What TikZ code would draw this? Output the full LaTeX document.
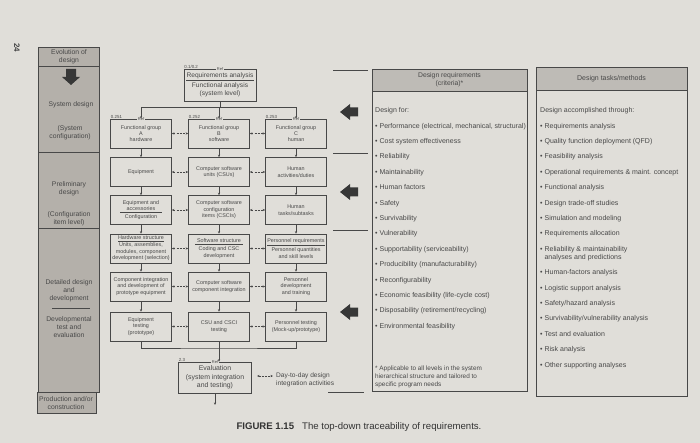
\documentclass[tikz,border=0pt]{standalone}
\usepackage{fontspec}
\setmainfont{Liberation Sans}
\usetikzlibrary{arrows.meta,positioning}

\definecolor{paper}{RGB}{224,222,217}
\definecolor{panel}{RGB}{180,176,170}
\definecolor{headgray}{RGB}{190,187,182}
\definecolor{ink}{RGB}{72,72,72}
\definecolor{bigdark}{RGB}{55,55,55}

\begin{document}
\begin{tikzpicture}[
    x=1pt, y=-1pt,
    every node/.style={text=ink},
    fbox/.style={draw=ink, fill=paper, line width=0.5pt, align=center, inner sep=0.5pt, minimum width=61pt, minimum height=29pt, font=\fontsize{5.4}{6.4}\selectfont},
    ref/.style={fill=paper, inner sep=0.4pt, font=\fontsize{4}{4}\selectfont},
    tag/.style={anchor=south west, inner sep=0.5pt, font=\fontsize{4.4}{5}\selectfont},
    flow/.style={-{Stealth[length=2.6pt,width=2.2pt]}, draw=ink, line width=0.5pt},
    daily/.style={{Stealth[length=2.6pt,width=2.2pt]}-{Stealth[length=2.6pt,width=2.2pt]}, draw=ink, line width=0.5pt, dash pattern=on 2pt off 1.2pt},
    phase/.style={align=center, font=\fontsize{6.8}{8}\selectfont},
    listing/.style={anchor=north west, align=left, inner sep=0pt, font=\fontsize{7}{15.4}\selectfont},
    rule/.style={draw=ink, line width=0.7pt}
  ]
    \fill[paper] (0,0) rectangle (700,443);
    \useasboundingbox (0,0) rectangle (700,443);
    \node[rotate=-90, font=\bfseries\fontsize{8}{9}\selectfont] (pagenum) at (17,48) {24};

    % phases of the design
    \fill[panel] (38,47) rectangle (99,392);
    \fill[panel] (37,392) rectangle (96,413);
    \draw[ink, line width=0.5pt] (38,47) rectangle (99,392);
    \draw[ink, line width=0.5pt] (37,392) rectangle (96,413);
    \draw[ink, line width=0.5pt] (38,66) -- (99,66);
    \draw[ink, line width=0.5pt] (38,152) -- (99,152);
    \draw[ink, line width=0.5pt] (38,228) -- (99,228);
    \draw[ink, line width=0.5pt] (52,308) -- (90,308);
    \fill[bigdark] (71,85) -- (62,77) -- (66,77) -- (66,69) -- (76,69) -- (76,77) -- (80,77) -- cycle;
    \node[phase] (evo) at (69,57) {Evolution of\\design};
    \node[phase] (sysd) at (71,105) {System design};
    \node[phase] (syscfg) at (70,133) {(System\\configuration)};
    \node[phase] (prel) at (69,189) {Preliminary\\design};
    \node[phase] (cilevel) at (69,219) {(Configuration\\item level)};
    \node[phase] (detd) at (69,291) {Detailed design\\and\\development};
    \node[phase] (devt) at (69,327) {Developmental\\test and\\evaluation};
    \node[phase] (prod) at (66,403) {Production and/or\\construction};

    % top-down flow
    \node[fbox, minimum width=72pt, minimum height=32pt, font=\fontsize{6.6}{8.5}\selectfont] (req) at (220,85) {\underline{\makebox[68pt]{Requirements analysis}}\\[1pt]Functional analysis\\(system level)};
    \node[fbox] (fgA) at (141,133.5) {Functional group\\A\\hardware};
    \node[fbox] (fgB) at (219,133.5) {Functional group\\B\\software};
    \node[fbox] (fgC) at (296,133.5) {Functional group\\C\\human};
    \node[fbox] (eqA) at (141,172) {Equipment};
    \node[fbox] (csuB) at (219,172) {Computer software\\units (CSUs)};
    \node[fbox] (humC) at (296,172) {Human\\activities/duties};
    \node[fbox] (cfgA) at (141,210) {Equipment and\\\underline{\makebox[42pt]{accessories}}\\[1.5pt]Configuration};
    \node[fbox] (csciB) at (219,210) {Computer software\\configuration\\items (CSCIs)};
    \node[fbox] (taskC) at (296,210) {Human\\tasks/subtasks};
    \node[fbox] (hwA) at (141,248.5) {\underline{Hardware structure}\\[0.6pt]Units, assemblies,\\modules, component\\development (selection)};
    \node[fbox] (swB) at (219,248.5) {\underline{\makebox[48pt]{Software structure}}\\[1.5pt]Coding and CSC\\development};
    \node[fbox] (perC) at (296,248.5) {\underline{Personnel requirements}\\[1.5pt]Personnel quantities\\and skill levels};
    \node[fbox] (intA) at (141,286.5) {Component integration\\and development of\\prototype equipment};
    \node[fbox] (cscB) at (219,286.5) {Computer software\\component integration};
    \node[fbox] (devC) at (296,286.5) {Personnel\\development\\and training};
    \node[fbox] (testA) at (141,326.5) {Equipment\\testing\\(prototype)};
    \node[fbox] (testB) at (219,326.5) {CSU and CSCI\\testing};
    \node[fbox] (testC) at (296,326.5) {Personnel testing\\(Mock-up/prototype)};
    \node[fbox, minimum width=73pt, minimum height=31pt, font=\fontsize{6.9}{8.3}\selectfont] (eval) at (215,377.5) {Evaluation\\(system integration\\and testing)};

    \node[ref] (reqref) at (req.north) {Ref};
    \node[ref] (fgAref) at (fgA.north) {Ref};
    \node[ref] (fgBref) at (fgB.north) {Ref};
    \node[ref] (fgCref) at (fgC.north) {Ref};
    \node[ref] (evalref) at (eval.north) {Ref};
    \node[tag] (reqnum) at (req.north west) {0.1/0.2};
    \node[tag] (fgAnum) at (fgA.north west) {0.251};
    \node[tag] (fgBnum) at (fgB.north west) {0.252};
    \node[tag] (fgCnum) at (fgC.north west) {0.253};
    \node[tag] (evalnum) at (eval.north west) {2.3};

    \coordinate (split) at (220,107);
    \draw[ink, line width=0.5pt] (req.south) -- (split);
    \draw[flow] (split) -| (fgA.north);
    \draw[flow] (split) -| (fgB.north);
    \draw[flow] (split) -| (fgC.north);
    \draw[flow] (fgA) -- (eqA);
    \draw[flow] (eqA) -- (cfgA);
    \draw[flow] (cfgA) -- (hwA);
    \draw[flow] (hwA) -- (intA);
    \draw[flow] (intA) -- (testA);
    \draw[flow] (fgB) -- (csuB);
    \draw[flow] (csuB) -- (csciB);
    \draw[flow] (csciB) -- (swB);
    \draw[flow] (swB) -- (cscB);
    \draw[flow] (cscB) -- (testB);
    \draw[flow] (fgC) -- (humC);
    \draw[flow] (humC) -- (taskC);
    \draw[flow] (taskC) -- (perC);
    \draw[flow] (perC) -- (devC);
    \draw[flow] (devC) -- (testC);
    \draw[daily] (fgA) -- (fgB);
    \draw[daily] (fgB) -- (fgC);
    \draw[daily] (eqA) -- (csuB);
    \draw[daily] (csuB) -- (humC);
    \draw[daily] (cfgA) -- (csciB);
    \draw[daily] (csciB) -- (taskC);
    \draw[daily] (hwA) -- (swB);
    \draw[daily] (swB) -- (perC);
    \draw[daily] (intA) -- (cscB);
    \draw[daily] (cscB) -- (devC);
    \draw[daily] (testA) -- (testB);
    \draw[daily] (testB) -- (testC);
    \coordinate (merge) at (219,348);
    \draw[ink, line width=0.5pt] (testA.south) |- (merge) -| (testC.south);
    \draw[flow] (testB.south) -- (testB.south |- eval.north);
    \coordinate (evalout) at (215,405);
    \draw[flow] (eval.south) -- (evalout);

    \coordinate (legL) at (257,376);
    \coordinate (legR) at (273,376);
    \draw[daily] (legL) -- (legR);
    \node[anchor=west, align=left, inner sep=0pt, font=\fontsize{6.6}{8}\selectfont] (legtext) at (276,380) {Day-to-day design\\integration activities};

    % phase boundaries and big arrows
    \draw[rule] (333,70) -- (368,70);
    \draw[rule] (333,153) -- (368,153);
    \draw[rule] (333,230) -- (368,230);
    \draw[rule] (328,392) -- (364,392);
    \fill[bigdark, shift={(340,112)}] (0,0) -- (10,-8) -- (10,-4.5) -- (18,-4.5) -- (18,4.5) -- (10,4.5) -- (10,8) -- cycle;
    \fill[bigdark, shift={(340,192)}] (0,0) -- (10,-8) -- (10,-4.5) -- (18,-4.5) -- (18,4.5) -- (10,4.5) -- (10,8) -- cycle;
    \fill[bigdark, shift={(340,312)}] (0,0) -- (10,-8) -- (10,-4.5) -- (18,-4.5) -- (18,4.5) -- (10,4.5) -- (10,8) -- cycle;

    % design requirements
    \draw[ink, line width=0.5pt, fill=paper] (372,69) rectangle (527,391);
    \draw[ink, line width=0.5pt, fill=headgray] (372,69) rectangle (527,91);
    \node[align=center, font=\fontsize{6.8}{8}\selectfont] (reqhead) at (449.5,80) {Design requirements\\(criteria)*};
    \node[listing] (reqlist) at (375,107.5) {Design for:\\
      • Performance (electrical, mechanical, structural)\\
      • Cost system effectiveness\\
      • Reliability\\
      • Maintainability\\
      • Human factors\\
      • Safety\\
      • Survivability\\
      • Vulnerability\\
      • Supportability (serviceability)\\
      • Producibility (manufacturability)\\
      • Reconfigurability\\
      • Economic feasibility (life-cycle cost)\\
      • Disposability (retirement/recycling)\\
      • Environmental feasibility};
    \node[anchor=north west, align=left, inner sep=0pt, font=\fontsize{6.4}{8}\selectfont] (reqnote) at (375,366) {* Applicable to all levels in the system\\hierarchical structure and tailored to\\specific program needs};

    % design tasks and methods
    \draw[ink, line width=0.5pt, fill=paper] (536,67) rectangle (687,396);
    \draw[ink, line width=0.5pt, fill=headgray] (536,67) rectangle (687,90);
    \node[font=\fontsize{7}{8}\selectfont] (taskhead) at (611.5,78.5) {Design tasks/methods};
    \node[listing] (tasklist) at (540,107.5) {Design accomplished through:\\
      • Requirements analysis\\
      • Quality function deployment (QFD)\\
      • Feasibility analysis\\
      • Operational requirements \& maint. concept\\
      • Functional analysis\\
      • Design trade-off studies\\
      • Simulation and modeling\\
      • Requirements allocation\\
      • Reliability \& maintainability\\[-7.4pt]
      \hphantom{• }analyses and predictions\\
      • Human-factors analysis\\
      • Logistic support analysis\\
      • Safety/hazard analysis\\
      • Survivability/vulnerability analysis\\
      • Test and evaluation\\
      • Risk analysis\\
      • Other supporting analyses};

    \node[anchor=west, font=\fontsize{9.6}{11}\selectfont, text=black!80] (caption) at (233,427) {\textbf{FIGURE 1.15}\hspace{8pt}The top-down traceability of requirements.};
  \end{tikzpicture}
\end{document}
